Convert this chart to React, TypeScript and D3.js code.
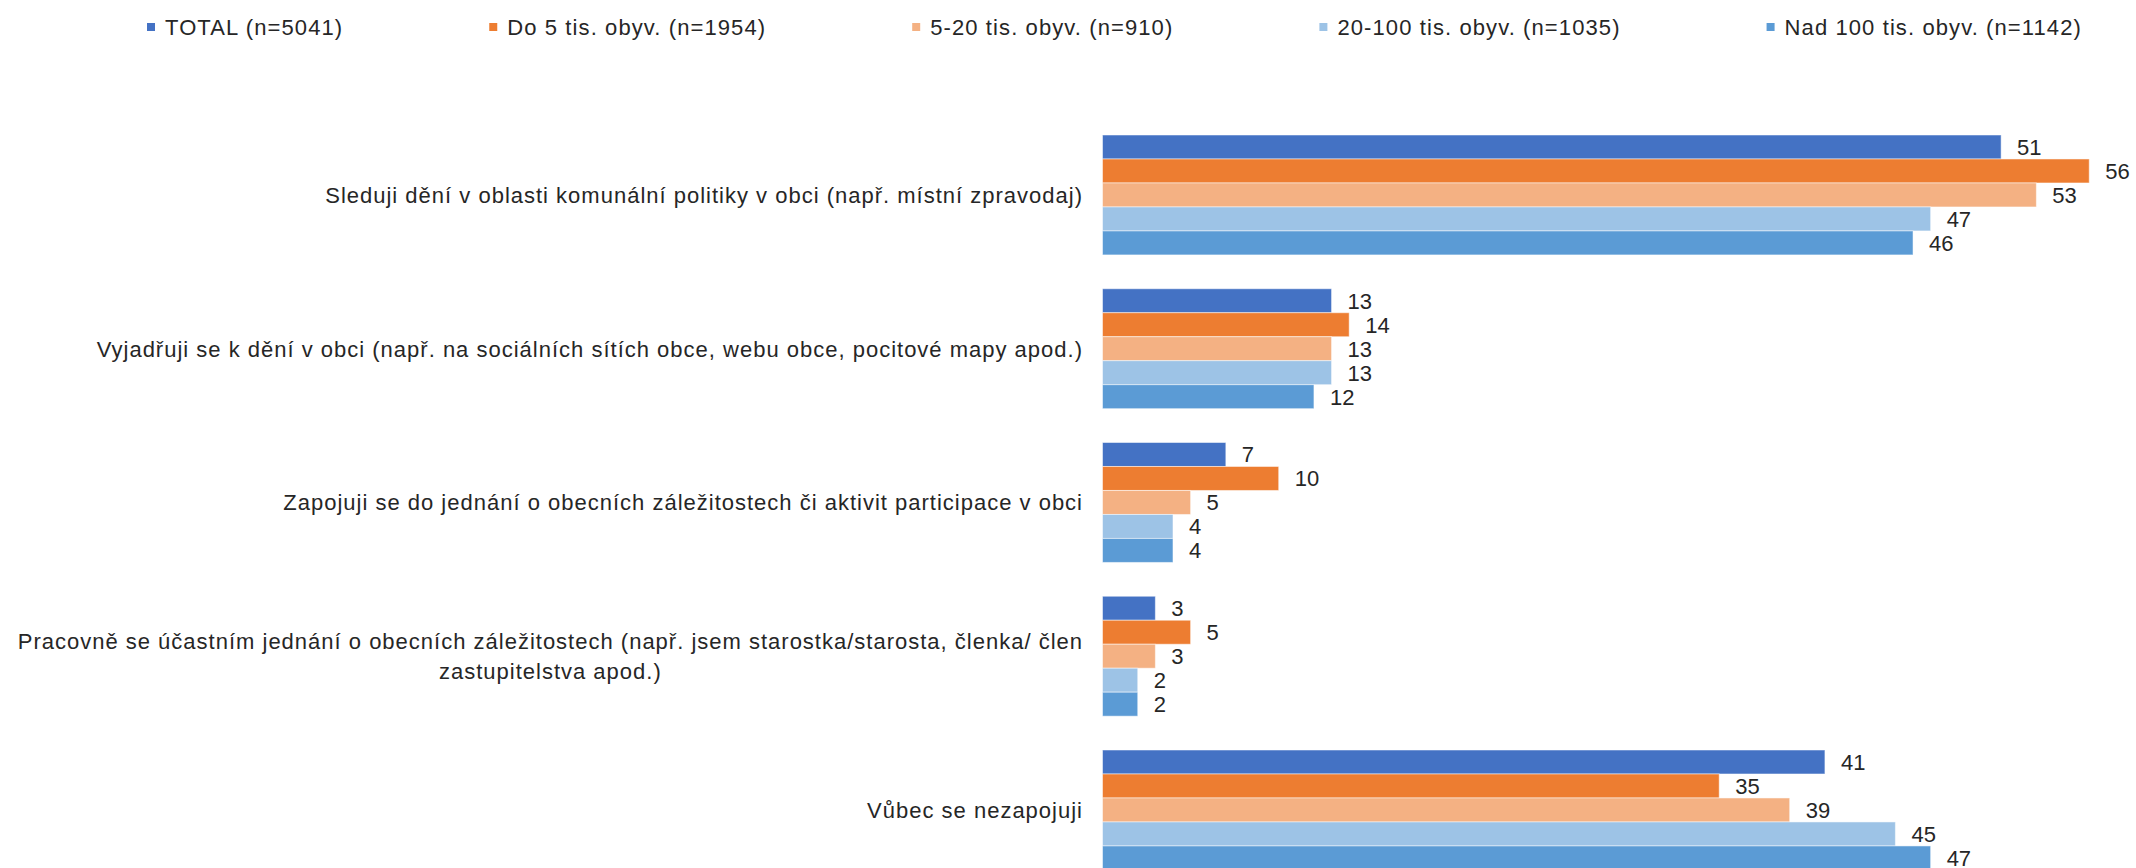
import React, { useEffect, useRef } from 'react';
import * as d3 from 'd3';

const categories = [
  'Sleduji dění v oblasti komunální politiky v obci (např. místní zpravodaj)',
  'Vyjadřuji se k dění v obci (např. na sociálních sítích obce, webu obce, pocitové mapy apod.)',
  'Zapojuji se do jednání o obecních záležitostech či aktivit participace v obci',
  'Pracovně se účastním jednání o obecních záležitostech (např. jsem starostka/starosta, členka/ člen\nzastupitelstva apod.)',
  'Vůbec se nezapojuji',
];

const seriesNames = [
  'TOTAL (n=5041)',
  'Do 5 tis. obyv. (n=1954)',
  '5-20 tis. obyv. (n=910)',
  '20-100 tis. obyv. (n=1035)',
  'Nad 100 tis. obyv. (n=1142)',
];

const seriesColors = ['#4472C4', '#ED7D31', '#F4B183', '#9DC3E6', '#5B9BD5'];

const total = [51, 13, 7, 3, 41];
const do5 = [56, 14, 10, 5, 35];
const from5to20 = [53, 13, 5, 3, 39];
const from20to100 = [47, 13, 4, 2, 45];
const nad100 = [46, 12, 4, 2, 47];

const seriesValues = [total, do5, from5to20, from20to100, nad100];

const WIDTH = 2136;
const HEIGHT = 868;
const FONT = '"Liberation Sans", Arial, sans-serif';
const TEXT_COLOR = '#262626';

const App: React.FC = () => {
  const svgRef = useRef<SVGSVGElement>(null);

  useEffect(() => {
    document.body.style.margin = '0';
    if (!svgRef.current) return;

    const svg = d3.select(svgRef.current);
    svg.selectAll('*').remove();

    const plotLeft = 1102.5;
    const plotTop = 135;
    const step = 153.75;

    const x = d3.scaleLinear().domain([0, 60]).range([plotLeft, plotLeft + 60 * 17.62]);

    const y0 = d3.scaleBand<string>()
      .domain(categories)
      .range([plotTop, plotTop + step * (categories.length - 0.22)])
      .paddingInner(0.22)
      .paddingOuter(0);

    const y1 = d3.scaleBand<string>()
      .domain(seriesNames)
      .range([0, y0.bandwidth()])
      .padding(0);

    // Bars and value labels
    const groups = svg.selectAll('.group')
      .data(categories)
      .enter()
      .append('g')
      .attr('class', 'group')
      .attr('transform', d => `translate(0, ${y0(d)})`);

    groups.each(function (cat, ci) {
      const g = d3.select(this);
      const rows = seriesNames.map((s, si) => ({ s, v: seriesValues[si][ci], color: seriesColors[si] }));

      g.selectAll('rect')
        .data(rows)
        .enter()
        .append('rect')
        .attr('x', x(0))
        .attr('y', d => y1(d.s) || 0)
        .attr('width', d => x(d.v) - x(0))
        .attr('height', y1.bandwidth())
        .attr('fill', d => d.color)
        .attr('stroke', '#ffffff')
        .attr('stroke-opacity', 0.5)
        .attr('stroke-width', 1);

      g.selectAll('text.val')
        .data(rows)
        .enter()
        .append('text')
        .attr('class', 'val')
        .attr('x', d => x(d.v) + 16)
        .attr('y', d => (y1(d.s) || 0) + y1.bandwidth() / 2)
        .attr('dy', '0.36em')
        .style('font-family', FONT)
        .style('font-size', '22px')
        .style('fill', TEXT_COLOR)
        .text(d => d.v);
    });

    // Category labels (right-aligned block, lines centred to each other)
    const labelRight = 1083;
    const lineHeight = 30;
    categories.forEach(cat => {
      const lines = cat.split('\n');
      const cy = (y0(cat) || 0) + y0.bandwidth() / 2;
      const t = svg.append('text')
        .style('font-family', FONT)
        .style('font-size', '22px')
        .style('letter-spacing', '1px')
        .style('fill', TEXT_COLOR)
        .attr('text-anchor', 'middle');
      lines.forEach((line, i) => {
        t.append('tspan')
          .attr('y', cy + (i - (lines.length - 1) / 2) * lineHeight)
          .attr('dy', '0.36em')
          .text(line);
      });
      const widths = t.selectAll<SVGTSpanElement, unknown>('tspan').nodes().map(n => n.getComputedTextLength());
      const maxW = d3.max(widths) || 0;
      t.selectAll('tspan').attr('x', labelRight - maxW / 2);
    });

    // Legend
    const legend = svg.append('g').attr('transform', 'translate(0, 27)');
    let lx = 147;
    seriesNames.forEach((name, i) => {
      legend.append('rect')
        .attr('x', lx)
        .attr('y', -4)
        .attr('width', 8)
        .attr('height', 8)
        .attr('fill', seriesColors[i]);
      const t = legend.append('text')
        .attr('x', lx + 18)
        .attr('y', 0)
        .attr('dy', '0.36em')
        .style('font-family', FONT)
        .style('font-size', '22px')
        .style('letter-spacing', '1.1px')
        .style('fill', TEXT_COLOR)
        .text(name);
      lx += 18 + (t.node() as SVGTextElement).getComputedTextLength() + 146;
    });
  }, []);

  return (
    <svg
      ref={svgRef}
      width={WIDTH}
      height={HEIGHT}
      style={{ display: 'block', background: '#ffffff' }}
    />
  );
};

export default App;
